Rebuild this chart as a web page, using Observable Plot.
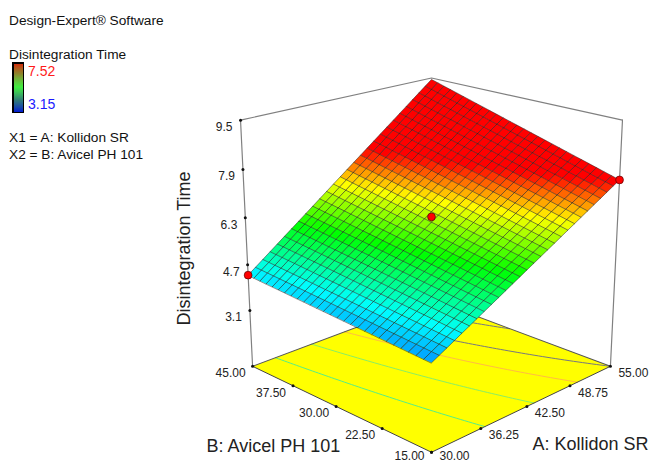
<!DOCTYPE html>
<html><head><meta charset="utf-8">
<style>
html,body{margin:0;padding:0;background:#fff}
#stage{position:relative;width:650px;height:463px;overflow:hidden;font-family:"Liberation Sans",Arial,sans-serif;color:#111}
#stage svg{position:absolute;left:0;top:0;background:transparent}
.t{position:absolute;white-space:nowrap;font-size:13.7px;line-height:15px}
#legendBar{position:absolute;left:12px;top:62px}
#legendBar svg{position:static}
</style>
<script src="https://cdn.jsdelivr.net/npm/d3@7"></script>
<script src="https://cdn.jsdelivr.net/npm/@observablehq/plot@0.6"></script>
</head><body><div id="stage"></div>
<script>
// ---- values ----
const aRange = [30, 55];
const bRange = [15, 45];
const zRange = [1.1, 9.5];
const aTicks = [30, 36.25, 42.5, 48.75, 55];
const bTicks = [15, 22.5, 30, 37.5, 45];
const zTicks = [3.1, 4.7, 6.3, 7.9, 9.5];
// response at the four corners of the design space
const zLowALowB = 3.95, zHighALowB = 7.56, zLowAHighB = 4.34, zHighAHighB = 9.45;
const designA = [30, 42.5, 55];
const designB = [45, 30, 15];
const designZ = [4.34, 6.33, 7.56];
const contourLevels = [4.93, 5.9, 6.82, 7.56, 8.56];
const contourColors = ["#55ee88", "#88ee66", "#ffbb44", "#77777f", "#77777f"];
const colorStops = [3.15, 4.48, 5.6, 6.65, 7.52];
const colorRange = ["#0000ff", "#00ffff", "#00ff00", "#ffff00", "#ff0000"];
const legendStops = [3.15, 4.2425, 5.335, 6.4275, 7.52];
const legendRange = ["#0016d8", "#005f58", "#00e800", "#707000", "#e81808"];
const meshCells = 27;

// ---- viewing camera of the 3-D box ----
const pitch = 19.76 * Math.PI / 180, camDist = 5.19, focal = 1356;
const cs = Math.cos(pitch), sn = Math.sin(pitch), r = Math.SQRT1_2;
const nA = a => (a - aRange[0]) / (aRange[1] - aRange[0]);
const nB = b => (b - bRange[0]) / (bRange[1] - bRange[0]);
const nZ = z => (z - zRange[0]) / (zRange[1] - zRange[0]);
function project(a, b, z) {
  const U = nA(a) - .5, V = nB(b) - .5, Z = nZ(z) - .5;
  const X = (U - V) * r, Y = (U + V) * r;
  const depth = camDist + Y * cs - Z * sn;
  return [focal * X / depth, focal * (Y * sn + Z * cs) / depth];
}
const P = (a, b, z) => { const [x, y] = project(a, b, z); return {x, y}; };
function surfaceZ(u, v) {
  return zLowALowB * (1 - u) * (1 - v) + zHighALowB * u * (1 - v) + zLowAHighB * (1 - u) * v + zHighAHighB * u * v;
}
const A = u => aRange[0] + u * (aRange[1] - aRange[0]);
const B = v => bRange[0] + v * (bRange[1] - bRange[0]);
const [a0, a1] = aRange, [b0, b1] = bRange, [z0, z1] = zRange;

// mesh cells, far ones first so that near ones cover them
const cells = [];
for (let i = 0; i < meshCells; i++) for (let j = 0; j < meshCells; j++) cells.push([i, j]);
cells.sort((p, q) => (q[0] + q[1]) - (p[0] + p[1]));
const meshPts = [];
cells.forEach(([i, j], id) => {
  const corners = [[i, j], [i + 1, j], [i + 1, j + 1], [i, j + 1]].map(([m, n]) => [m / meshCells, n / meshCells]);
  const val = d3.mean(corners, ([u, v]) => surfaceZ(u, v));
  corners.forEach(([u, v]) => meshPts.push({...P(A(u), B(v), surfaceZ(u, v)), id, val}));
});

// floor contours of the same surface
const contourPts = [];
contourLevels.forEach((L, k) => {
  for (let n = 0; n <= 60; n++) {
    const v = n / 60;
    const left = zLowALowB * (1 - v) + zLowAHighB * v, right = zHighALowB * (1 - v) + zHighAHighB * v;
    const u = (L - left) / (right - left);
    if (u >= 0 && u <= 1.0001) contourPts.push({...P(A(Math.min(u, 1)), B(v), z0), k, color: contourColors[k]});
  }
});

const floor = [[a0, b0], [a1, b0], [a1, b1], [a0, b1]].map(([a, b]) => P(a, b, z0));
const boxTop = [[a0, b1], [a1, b1], [a1, b0]].map(([a, b]) => P(a, b, z1));
const leftEdge = [P(a0, b1, z0), P(a0, b1, z1)];
const rightEdge = [P(a1, b0, z0), P(a1, b0, z1)];
const lowerEdges = [P(a0, b1, z0), P(a0, b0, z0), P(a1, b0, z0)];
const backEdges = [P(a0, b1, z0), P(a1, b1, z0), P(a1, b0, z0)];

const zTickPts = zTicks.map(z => ({...P(a0, b1, z), label: z.toFixed(1)}));
const aTickPts = aTicks.map(a => ({...P(a, b0, z0), label: a.toFixed(2)}));
const bTickPts = bTicks.map(b => ({...P(a0, b, z0), label: b.toFixed(2)}));
const designPts = designA.map((a, i) => P(a, designB[i], designZ[i]));

const lineStyle = {x: "x", y: "y", stroke: "#808080", strokeWidth: 1.2};
const tickFont = {x: "x", y: "y", text: "label", fontSize: 12, fill: "#222"};
const chart = Plot.plot({
  width: 650, height: 463, margin: 0,
  style: {background: "transparent", fontFamily: '"Liberation Sans",Arial,sans-serif'},
  x: {domain: [-431, 219], range: [0, 650], axis: null},
  y: {domain: [-216.25, 246.75], range: [463, 0], axis: null},
  color: {type: "linear", domain: colorStops, range: colorRange, clamp: true},
  marks: [
    Plot.line(floor, {x: "x", y: "y", fill: "#ffff00", stroke: "none", curve: "linear-closed"}),
    Plot.line(contourPts, {x: "x", y: "y", z: "k", stroke: d => d.color, strokeWidth: 1}),
    Plot.line(backEdges, {...lineStyle, stroke: "#555", strokeWidth: 1.1}),
    Plot.line(lowerEdges, {...lineStyle, stroke: "#444", strokeWidth: 1}),
    Plot.line(leftEdge, lineStyle),
    Plot.line(rightEdge, lineStyle),
    Plot.line(boxTop, lineStyle),
    Plot.line(meshPts, {x: "x", y: "y", z: "id", fill: "val", stroke: "#1c1c1c", strokeWidth: .6, strokeOpacity: .8, curve: "linear-closed"}),
    Plot.dot(zTickPts.concat(aTickPts, bTickPts), {x: "x", y: "y", r: 1.5, fill: "#111", stroke: "none"}),
    Plot.dot(designPts, {x: "x", y: "y", r: 3.9, fill: "#ff0000", stroke: "#5a0000", strokeWidth: .7}),
    Plot.text(zTickPts, {...tickFont, textAnchor: "end", dx: -8, dy: 7}),
    Plot.text(aTickPts.slice(1), {...tickFont, dx: 23, dy: 7}),
    Plot.text(bTickPts.slice(1), {...tickFont, dx: -22, dy: 7}),
    Plot.text(aTickPts.slice(0, 1), {...tickFont, dx: 23, dy: 4}),
    Plot.text(bTickPts.slice(0, 1), {...tickFont, dx: -22, dy: 4}),
    Plot.text(["Disintegration Time"], {frameAnchor: "top-left", dx: 184, dy: 248, rotate: -90, textAnchor: "middle", lineAnchor: "middle", fontSize: 18, fill: "#222"}),
    Plot.text(["B: Avicel PH 101"], {frameAnchor: "top-left", dx: 206, dy: 446, textAnchor: "start", lineAnchor: "middle", fontSize: 18, fill: "#222"}),
    Plot.text(["A: Kollidon SR"], {frameAnchor: "top-left", dx: 532, dy: 444, textAnchor: "start", lineAnchor: "middle", fontSize: 18, fill: "#222"})
  ]
});
const stage = document.getElementById("stage");
stage.appendChild(chart);

// legend colour bar
const stepSize = (7.52 - 3.15) / 50;
const legendSteps = d3.range(50).map(i => 3.15 + i * stepSize);
const bar = Plot.plot({
  width: 12, height: 51, margin: 0,
  style: {background: "transparent"},
  x: {domain: [0, 1], range: [0, 12], axis: null},
  y: {domain: [3.15, 7.52], range: [51, 0], axis: null},
  color: {type: "linear", domain: legendStops, range: legendRange},
  marks: [
    Plot.rect(legendSteps, {x1: 0, x2: 1, y1: d => d, y2: d => d + stepSize, fill: d => d}),
    Plot.frame({stroke: "#000", strokeWidth: 3})
  ]
});
const holder = document.createElement("div");
holder.id = "legendBar";
holder.appendChild(bar);
stage.appendChild(holder);

const texts = [
  ["Design-Expert® Software", 9, 13, "#111"],
  ["Disintegration Time", 9, 47, "#111"],
  ["X1 = A: Kollidon SR", 9, 130, "#111"],
  ["X2 = B: Avicel PH 101", 9, 147, "#111"]
];
texts.forEach(([s, x, y, c]) => {
  const d = document.createElement("div");
  d.className = "t"; d.textContent = s;
  d.style.left = x + "px"; d.style.top = y + "px"; d.style.color = c;
  stage.appendChild(d);
});
[["7.52", 28, 62, "#ff1a1a"], ["3.15", 28, 95, "#1a1aff"]].forEach(([s, x, y, c]) => {
  const d = document.createElement("div");
  d.className = "t"; d.textContent = s;
  d.style.left = x + "px"; d.style.top = y + "px"; d.style.color = c; d.style.fontSize = "14px"; d.style.lineHeight = "18px";
  stage.appendChild(d);
});
</script></body></html>
